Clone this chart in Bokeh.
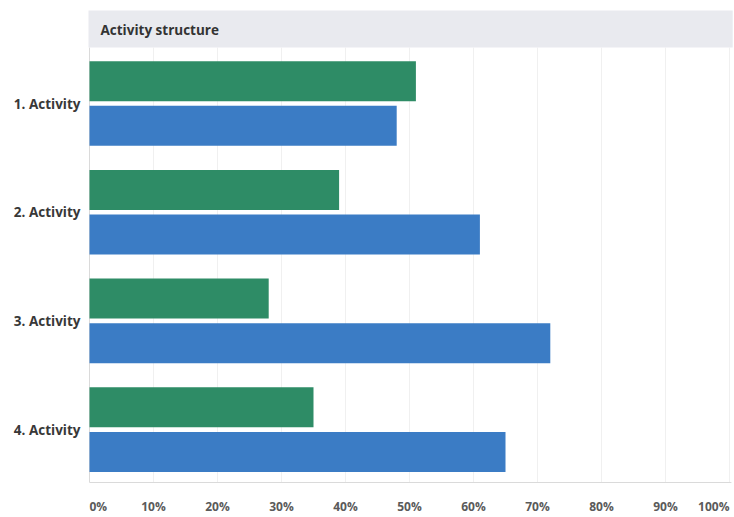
from bokeh.plotting import figure
from bokeh.models import Range1d, ColumnDataSource, FixedTicker
from bokeh.core.properties import value
from bokeh.embed import file_html
from bokeh.resources import INLINE

# --- data -------------------------------------------------------------
categories = ["1. Activity", "2. Activity", "3. Activity", "4. Activity"]
green_share = [51, 39, 28, 35]   # upper bar of each pair, %
blue_share = [48, 61, 72, 65]    # lower bar of each pair, %
tick_values = [0, 10, 20, 30, 40, 50, 60, 70, 80, 90, 100]
tick_labels = ["0%", "10%", "20%", "30%", "40%", "50%", "60%", "70%", "80%", "90%", "100%"]
chart_title = "Activity structure"

# --- layout helpers (pixel geometry of the canvas) --------------------
W, H = 734, 517
LEFT = 88                 # width of the category-label gutter
X0_PX, PX_PER_PCT = 89, 6.4
ROW0_PX, ROW_PX = 103, 108.7


def ypx(px):
    """Convert a vertical canvas pixel to the category-index scale."""
    return 1 + (px - ROW0_PX) / ROW_PX


FONT = value("Open Sans")
GREEN, BLUE = "#2e8c66", "#3b7cc5"

p = figure(
    width=W, height=H,
    x_range=Range1d(-(X0_PX - LEFT) / PX_PER_PCT, (W - X0_PX) / PX_PER_PCT),
    y_range=Range1d(ypx(H), ypx(0)),
    x_axis_location=None,
    toolbar_location=None,
    output_backend="svg",
    min_border_left=LEFT, min_border_right=0,
    min_border_top=0, min_border_bottom=0,
)
p.outline_line_color = None
p.xgrid.visible = False
p.ygrid.visible = False
p.background_fill_color = "white"
p.border_fill_color = "white"

# category axis on the left
rows = list(range(1, len(categories) + 1))
p.yaxis.ticker = FixedTicker(ticks=rows)
p.yaxis.major_label_overrides = {r: c for r, c in zip(rows, categories)}
p.yaxis.axis_line_color = None
p.yaxis.major_tick_line_color = None
p.yaxis.minor_tick_line_color = None
p.yaxis.major_label_standoff = 2
p.yaxis.major_label_text_font = "Open Sans"
p.yaxis.major_label_text_font_style = "bold"
p.yaxis.major_label_text_font_size = "13.5px"
p.yaxis.major_label_text_color = "#383838"

plot_top, plot_bottom = ypx(47), ypx(482)

# vertical grid lines
grid_x = [t for t in tick_values if t > 0]
p.segment(x0=grid_x, x1=grid_x, y0=[plot_top] * len(grid_x), y1=[plot_bottom] * len(grid_x),
          line_color="#f0f0f0", line_width=1)

# axis frame lines (left and bottom)
p.segment(x0=[0, 0], x1=[0, tick_values[-1] + 0.3], y0=[plot_top, plot_bottom],
          y1=[plot_bottom, plot_bottom], line_color="#dadada", line_width=1)

# title strip
p.quad(left=[-0.3], right=[100.5], top=[ypx(10)], bottom=[ypx(47)],
       fill_color="#e9eaef", line_color=None)
p.text(x=[11 / PX_PER_PCT], y=[ypx(29)], text=[chart_title], text_font=FONT,
       text_font_style="bold", text_font_size="13.5px", text_color="#333333",
       text_baseline="middle", text_align="left")

# paired horizontal bars
half_gap = 0.205
bar_h = 0.368
src = ColumnDataSource(dict(
    row=rows,
    green=green_share,
    blue=blue_share,
    y_green=[r - half_gap for r in rows],
    y_blue=[r + half_gap for r in rows],
))
p.hbar(y="y_green", left=0, right="green", height=bar_h, source=src,
       fill_color=GREEN, line_color=None)
p.hbar(y="y_blue", left=0, right="blue", height=bar_h, source=src,
       fill_color=BLUE, line_color=None)

# percentage labels along the bottom: ends justified inside the plot
aligns = ["left"] + ["center"] * (len(tick_values) - 2) + ["right"]
tick_src = ColumnDataSource(dict(
    x=tick_values,
    y=[ypx(506)] * len(tick_values),
    label=tick_labels,
    align=aligns,
))
p.text(x="x", y="y", text="label", text_align="align", source=tick_src,
       text_font=FONT, text_font_style="bold", text_font_size="12px",
       text_color="#5a5a5a", text_baseline="middle")

open("out.html", "w").write(file_html(p, INLINE))
